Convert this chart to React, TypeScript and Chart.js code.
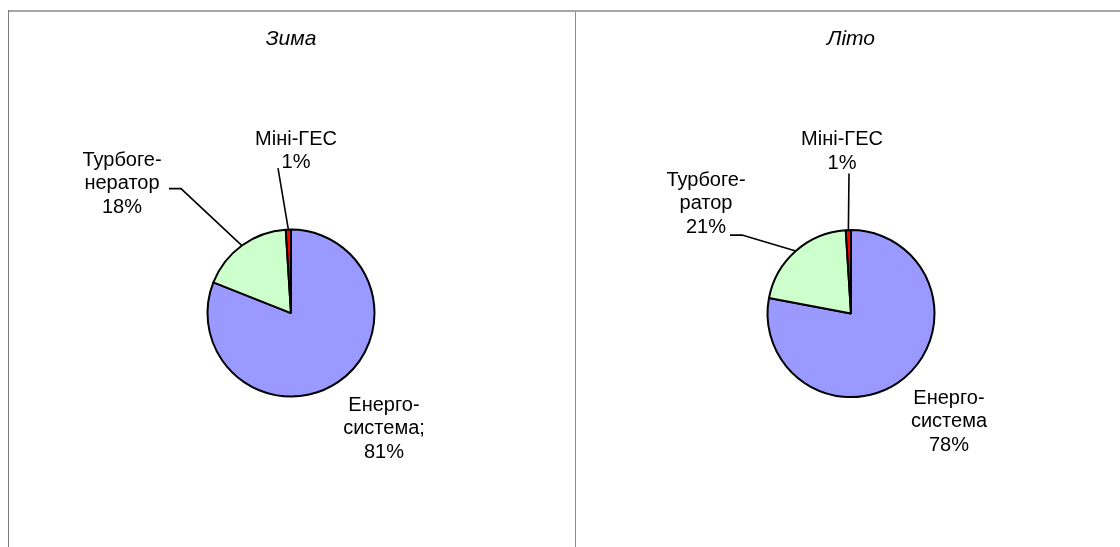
import React, { useEffect, useRef } from "react";
import { Chart, registerables } from "chart.js";

Chart.register(...registerables);

// ---------- data ----------
const categories = ["Енергосистема", "Турбогенератор", "Міні-ГЕС"];
const winterValues = [81, 18, 1];
const summerValues = [78, 21, 1];
const winterLabelNames = [["Енерго-", "система;"], ["Турбоге-", "нератор"], ["Міні-ГЕС"]];
const summerLabelNames = [["Енерго-", "система"], ["Турбоге-", "ратор"], ["Міні-ГЕС"]];
const panelTitles = ["Зима", "Літо"];

// ---------- style / layout ----------
const sliceColors = ["#9999FF", "#CCFFCC", "#FF0000"];
const FONT = "'Liberation Sans', Arial, sans-serif";

type Placement = { dx: number; dy: number; leader: number[][] | null };

const winterPlacement: Placement[] = [
  { dx: 93, dy: 92, leader: null },
  { dx: -169, dy: -153, leader: [[-122, -124.5], [-110, -124.5]] },
  { dx: 5, dy: -174, leader: [[-13, -145]] },
];
const summerPlacement: Placement[] = [
  { dx: 98, dy: 84.5, leader: null },
  { dx: -145, dy: -133.5, leader: [[-121, -78.5], [-109, -78.5]] },
  { dx: -9, dy: -174, leader: [[-2, -140]] },
];

const sliceLabelPlugin = {
  id: "sliceLabels",
  afterDatasetsDraw(chart: any, _args: any, opts: any) {
    const { ctx } = chart;
    const meta = chart.getDatasetMeta(0);
    const values = chart.data.datasets[0].data as number[];
    ctx.save();
    meta.data.forEach((arc: any, i: number) => {
      const p: Placement = opts.placements[i];
      const { x, y, startAngle, endAngle, outerRadius } = arc.getProps(
        ["x", "y", "startAngle", "endAngle", "outerRadius"],
        true
      );
      const mid = (startAngle + endAngle) / 2;
      if (p.leader) {
        ctx.beginPath();
        ctx.moveTo(x + p.leader[0][0], y + p.leader[0][1]);
        for (let k = 1; k < p.leader.length; k++) {
          ctx.lineTo(x + p.leader[k][0], y + p.leader[k][1]);
        }
        ctx.lineTo(x + Math.cos(mid) * outerRadius, y + Math.sin(mid) * outerRadius);
        ctx.strokeStyle = "#000";
        ctx.lineWidth = 1.6;
        ctx.stroke();
      }
      const lines = [...opts.names[i], `${values[i]}%`];
      ctx.font = `20px ${FONT}`;
      ctx.fillStyle = "#000";
      ctx.textAlign = "center";
      ctx.textBaseline = "middle";
      lines.forEach((t: string, k: number) => {
        ctx.fillText(t, x + p.dx, y + p.dy + k * opts.lineSpacing);
      });
    });
    ctx.restore();
  },
};

type PieProps = {
  title: string;
  values: number[];
  names: string[][];
  placements: Placement[];
  width: number;
  height: number;
  padding: { left: number; right: number; top: number; bottom: number };
  style: React.CSSProperties;
};

function PiePanel({ title, values, names, placements, width, height, padding, style }: PieProps) {
  const ref = useRef<HTMLCanvasElement | null>(null);
  useEffect(() => {
    if (!ref.current) return;
    const chart = new Chart(ref.current, {
      type: "pie",
      data: {
        labels: categories,
        datasets: [
          {
            data: values,
            backgroundColor: sliceColors,
            borderColor: "#000000",
            borderWidth: 2,
            hoverOffset: 0,
            offset: 0,
          },
        ],
      },
      options: {
        responsive: false,
        animation: false,
        devicePixelRatio: 1,
        radius: 83.5,
        layout: { padding },
        events: [],
        plugins: {
          legend: { display: false },
          tooltip: { enabled: false },
          title: {
            display: true,
            text: title,
            color: "#000",
            font: { family: FONT, size: 21, style: "italic", weight: "normal", lineHeight: 1.2 },
            padding: { top: 0, bottom: 95 },
          },
          sliceLabels: { placements, names, lineSpacing: 23.5 },
        } as any,
      },
      plugins: [sliceLabelPlugin],
    });
    return () => chart.destroy();
  }, []);
  return <canvas ref={ref} width={width} height={height} style={{ position: "absolute", ...style }} />;
}

export default function App() {
  return (
    <div
      style={{
        position: "fixed",
        left: 0,
        top: 0,
        width: 1120,
        height: 547,
        overflow: "hidden",
        background: "#ffffff",
      }}
    >
      <div style={{ position: "absolute", left: 8, top: 10, width: 1112, height: 2, background: "#a6a6a6" }} />
      <div style={{ position: "absolute", left: 8, top: 10, width: 1, height: 537, background: "#7a7a7a" }} />
      <div style={{ position: "absolute", left: 575, top: 12, width: 1, height: 535, background: "#8a8a8a" }} />
      <PiePanel
        title={panelTitles[0]}
        values={winterValues}
        names={winterLabelNames}
        placements={winterPlacement}
        width={566}
        height={535}
        padding={{ left: 180, right: 182, top: 15, bottom: 68 }}
        style={{ left: 9, top: 12 }}
      />
      <PiePanel
        title={panelTitles[1]}
        values={summerValues}
        names={summerLabelNames}
        placements={summerPlacement}
        width={544}
        height={535}
        padding={{ left: 180, right: 174, top: 15, bottom: 67 }}
        style={{ left: 576, top: 12 }}
      />
    </div>
  );
}
